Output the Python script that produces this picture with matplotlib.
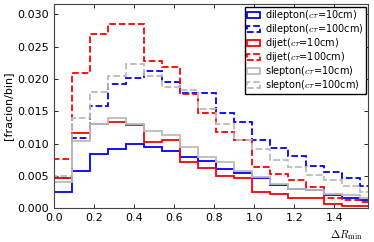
import numpy as np
import matplotlib
matplotlib.use('Agg')
import matplotlib.pyplot as plt

plt.rcParams['mathtext.fontset'] = 'cm'
plt.rcParams['font.family'] = 'DejaVu Sans'

# 18 bins of width 0.09 in Delta R_min
edges = np.arange(19) * 0.09

dilep_10 = [0.0025, 0.0057, 0.0084, 0.0091, 0.0099, 0.0094, 0.0089, 0.0079, 0.0073,
            0.0061, 0.0054, 0.0046, 0.0036, 0.0029, 0.0028, 0.0020, 0.0016, 0.0013]
dilep_100 = [0.0047, 0.0109, 0.0158, 0.0193, 0.0202, 0.0213, 0.0196, 0.0179, 0.0179,
             0.0147, 0.0133, 0.0105, 0.0093, 0.0080, 0.0065, 0.0056, 0.0046, 0.0034]
dijet_10 = [0.0046, 0.0116, 0.0130, 0.0134, 0.0129, 0.0103, 0.0105, 0.0071, 0.0062,
            0.0050, 0.0047, 0.0025, 0.0022, 0.0015, 0.0015, 0.0007, 0.0004, 0.0003]
dijet_100 = [0.0076, 0.0209, 0.0269, 0.0285, 0.0285, 0.0228, 0.0219, 0.0176, 0.0147,
             0.0118, 0.0105, 0.0064, 0.0053, 0.0043, 0.0032, 0.0016, 0.0012, 0.0009]
slep_10 = [0.0041, 0.0104, 0.0130, 0.0140, 0.0130, 0.0119, 0.0113, 0.0094, 0.0079,
           0.0072, 0.0057, 0.0048, 0.0038, 0.0030, 0.0028, 0.0022, 0.0020, 0.0016]
slep_100 = [0.0049, 0.0139, 0.0180, 0.0205, 0.0224, 0.0205, 0.0187, 0.0183, 0.0153,
            0.0131, 0.0106, 0.0091, 0.0075, 0.0064, 0.0052, 0.0043, 0.0034, 0.0025]

series = [
    (dilep_10, 'b', '-', r'dilepton($c\tau$=10cm)'),
    (dilep_100, 'b', '--', r'dilepton($c\tau$=100cm)'),
    (dijet_10, 'r', '-', r'dijet($c\tau$=10cm)'),
    (dijet_100, 'r', '--', r'dijet($c\tau$=100cm)'),
    (slep_10, '#bbbbbb', '-', r'slepton($c\tau$=10cm)'),
    (slep_100, '#bbbbbb', '--', r'slepton($c\tau$=100cm)'),
]

fig = plt.figure(figsize=(3.74, 2.42), dpi=100)
ax = fig.add_axes([0.145, 0.14, 0.84, 0.843])

centers = 0.5 * (edges[:-1] + edges[1:])
for vals, color, ls, label in series:
    ax.hist(centers, bins=edges, weights=vals, histtype='step', color=color,
            linestyle=ls, linewidth=1.3, label=label)

ax.set_xlim(0.0, np.pi / 2)
ax.set_ylim(0.0, 0.0316)
ax.set_xticks(np.arange(0, 1.41, 0.2))
ax.set_yticks(np.arange(0, 0.0301, 0.005))
ax.yaxis.set_major_formatter(matplotlib.ticker.FormatStrFormatter('%.3f'))
ax.xaxis.set_major_formatter(matplotlib.ticker.FormatStrFormatter('%.1f'))
ax.tick_params(direction='in', top=True, right=True, labelsize=8, length=3, width=0.6)
for sp in ax.spines.values():
    sp.set_linewidth(0.8)
    sp.set_color('#444444')

ax.set_ylabel('[fracion/bin]', fontsize=8, labelpad=3)
ax.set_xlabel(r'$\Delta R_{\rm min}$', fontsize=8, loc='right', labelpad=4)
ax.xaxis.set_label_coords(0.98, -0.1, transform=ax.transAxes)
ax.xaxis.label.set_horizontalalignment('right')

ax.legend(loc='upper right', fontsize=7, frameon=True, fancybox=False,
          edgecolor='black', framealpha=1, borderpad=0.2, labelspacing=0.0,
          handlelength=1.3, handletextpad=0.6, borderaxespad=0.25)

fig.savefig('out.png', dpi=100)
